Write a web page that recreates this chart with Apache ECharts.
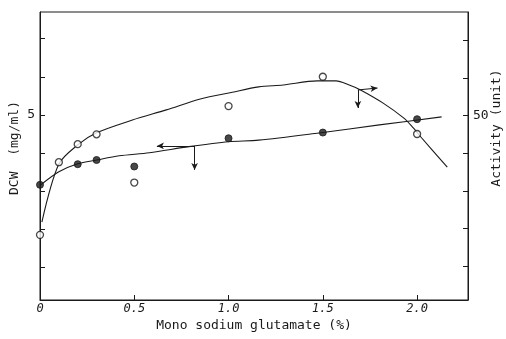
<!DOCTYPE html>
<html>
<head>
<meta charset="utf-8">
<script src="https://cdn.jsdelivr.net/npm/echarts@6/dist/echarts.min.js"></script>
<style>
  html, body { margin: 0; padding: 0; background: #fff; }
  #chart { width: 506px; height: 339px; }
</style>
</head>
<body>
<div id="chart"></div>
<script>
// Measured points: dry cell weight (filled) and activity (open) vs. MSG concentration
const dcwConc = [0, 0.2, 0.3, 0.5, 1.0, 1.5, 2.0];
const dcwValues = [3.17, 3.71, 3.82, 3.65, 4.39, 4.54, 4.89];

const actConc = [0, 0.1, 0.2, 0.3, 0.5, 1.0, 1.5, 2.0];
const actValues = [18.3, 37.6, 42.4, 45.0, 32.2, 52.5, 60.3, 45.1];

// Hand-fitted trend curves
const dcwCurveX = [0.005, 0.10, 0.20, 0.30, 0.42, 0.58, 0.79, 1.00, 1.16, 1.48, 1.80, 2.13];
const dcwCurveY = [3.17, 3.51, 3.72, 3.82, 3.93, 4.01, 4.17, 4.30, 4.34, 4.53, 4.74, 4.95];

const actCurveX = [0.01, 0.10, 0.20, 0.30, 0.49, 0.67, 0.85, 1.02, 1.16, 1.29, 1.47, 1.57, 1.64, 1.70, 1.82, 1.93, 1.98, 2.02, 2.16];
const actCurveY = [21.7, 37.1, 42.2, 45.4, 48.8, 51.5, 54.4, 56.2, 57.6, 58.1, 59.2, 59.2, 58.1, 56.8, 53.3, 49.3, 46.7, 44.3, 36.3];

// Axis tick positions and labels
const xTickValues = [0.5, 1.0, 1.5, 2.0];
const xLabelValues = [0, 0.5, 1.0, 1.5, 2.0];
const dcwTickValues = [1, 2, 3, 4, 5, 6, 7];
const dcwLabelValues = [5];
const actTickValues = [10, 20, 30, 40, 50, 60, 70];
const actLabelValues = [50];

// Pointer arrows: which curve belongs to which axis
const dcwPointer = { from: [0.82, 4.19], left: [0.62, 4.19], down: [0.82, 3.56] };
const actPointer = { from: [1.686, 56.8], right: [1.79, 57.3], down: [1.686, 52.0] };

const zip = (xs, ys) => xs.map((x, i) => [x, ys[i]]);
const FONT = 'DejaVu Sans Mono';
const INK = '#1a1a1a';

const chart = echarts.init(document.getElementById('chart'), null, { renderer: 'canvas' });

const arrowLines = (p, a, b) => ({
  silent: true,
  symbol: ['none', 'arrow'],
  symbolSize: [5, 7],
  label: { show: false },
  lineStyle: { color: INK, width: 1, type: 'solid' },
  emphasis: { disabled: true },
  data: [
    [{ coord: p.from }, { coord: p[a] }],
    [{ coord: p.from }, { coord: p[b] }]
  ]
});

chart.setOption({
  animation: false,
  backgroundColor: '#fff',
  grid: {
    left: 40, top: 12, right: 38, bottom: 39,
    outerBoundsMode: 'none', containLabel: false,
    show: true, borderColor: INK, borderWidth: 1, backgroundColor: 'transparent'
  },
  xAxis: {
    type: 'value', min: 0, max: 2.27,
    name: 'Mono sodium glutamate (%)',
    nameLocation: 'middle', nameGap: 19, nameMoveOverlap: false,
    nameTextStyle: { fontFamily: FONT, fontSize: 13, color: INK },
    axisLine: { show: true, lineStyle: { color: INK, width: 1 } },
    axisTick: { show: true, inside: true, length: 5, customValues: xTickValues, lineStyle: { color: INK } },
    axisLabel: {
      customValues: xLabelValues, margin: 3,
      fontFamily: FONT, fontSize: 12, fontStyle: 'italic', color: INK,
      formatter: v => (v === 0 ? '0' : v.toFixed(1))
    },
    splitLine: { show: false }
  },
  yAxis: [
    {
      type: 'value', min: 0.15, max: 7.7, position: 'left',
      name: 'DCW  (mg/ml)',
      nameLocation: 'middle', nameGap: 19, nameRotate: 90, nameMoveOverlap: false,
      nameTextStyle: { fontFamily: FONT, fontSize: 13, color: INK, padding: [0, 0, 0, 16] },
      axisLine: { show: true, lineStyle: { color: INK, width: 1 } },
      axisTick: { show: true, inside: true, length: 5, customValues: dcwTickValues, lineStyle: { color: INK } },
      axisLabel: { customValues: dcwLabelValues, margin: 5, fontFamily: FONT, fontSize: 13, color: INK },
      splitLine: { show: false }
    },
    {
      type: 'value', min: 1, max: 77.5, position: 'right',
      name: 'Activity (unit)',
      nameLocation: 'middle', nameGap: 22, nameRotate: 90, nameMoveOverlap: false,
      nameTextStyle: { fontFamily: FONT, fontSize: 13, color: INK, padding: [0, 0, 0, 56] },
      axisLine: { show: true, lineStyle: { color: INK, width: 1 } },
      axisTick: { show: true, inside: true, length: 5, customValues: actTickValues, lineStyle: { color: INK } },
      axisLabel: { customValues: actLabelValues, margin: 5, fontFamily: FONT, fontSize: 13, color: INK },
      splitLine: { show: false }
    }
  ],
  series: [
    {
      name: 'DCW curve', type: 'line', yAxisIndex: 0,
      data: zip(dcwCurveX, dcwCurveY), smooth: 0.3, showSymbol: false,
      lineStyle: { color: INK, width: 1.1 }, z: 2,
      markLine: arrowLines(dcwPointer, 'left', 'down')
    },
    {
      name: 'Activity curve', type: 'line', yAxisIndex: 1,
      data: zip(actCurveX, actCurveY), smooth: 0.3, showSymbol: false,
      lineStyle: { color: INK, width: 1.1 }, z: 2,
      markLine: arrowLines(actPointer, 'right', 'down')
    },
    {
      name: 'DCW', type: 'scatter', yAxisIndex: 0,
      data: zip(dcwConc, dcwValues), symbol: 'circle', symbolSize: 7,
      itemStyle: { color: INK, borderColor: INK, borderWidth: 1 }, z: 5
    },
    {
      name: 'Activity', type: 'scatter', yAxisIndex: 1,
      data: zip(actConc, actValues), symbol: 'circle', symbolSize: 7,
      itemStyle: { color: '#fff', borderColor: INK, borderWidth: 1.3 }, z: 5
    }
  ]
});
</script>
</body>
</html>
